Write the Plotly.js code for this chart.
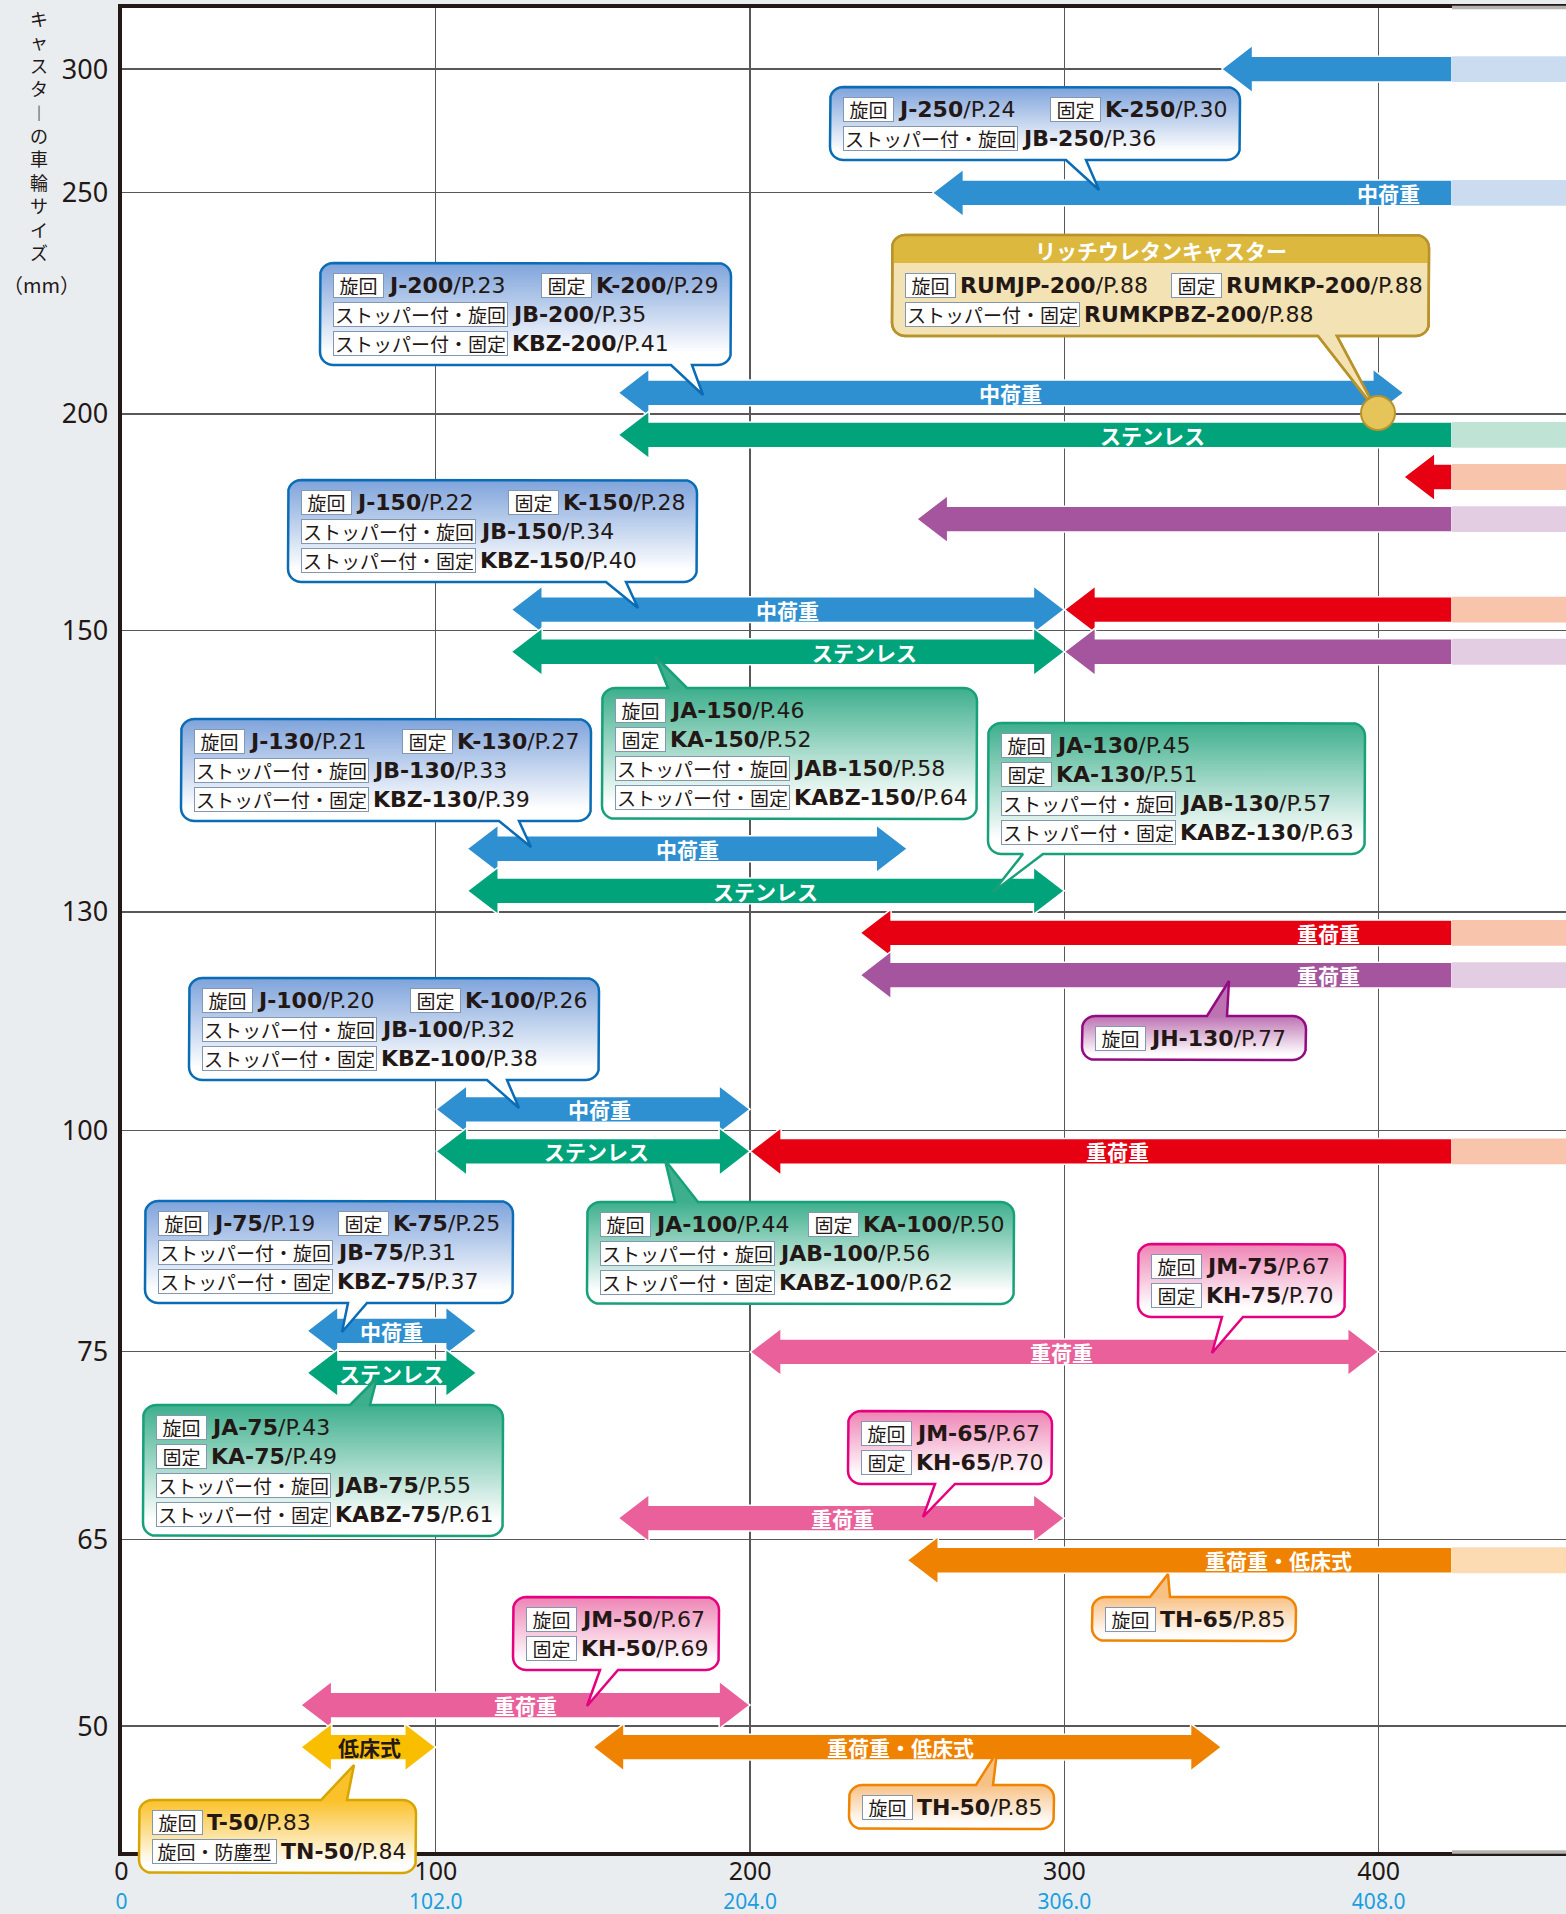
<!DOCTYPE html>
<html><head><meta charset="utf-8">
<script src="https://cdn.plot.ly/plotly-3.0.1.min.js"></script>
<style>html,body{margin:0;padding:0;background:#e9edf0}</style>
</head><body><div id="chart" style="width:1566px;height:1914px"></div>
<script>
// ================= DATA =================
const sizeTicks = [50, 65, 75, 100, 130, 150, 200, 250, 300];          // caster wheel size (mm)
const loadTicks = [0, 100, 200, 300, 400];
const loadTickLabels = ['0', '100', '200', '300', '400'];
const loadTickLabels2 = ['0', '102.0', '204.0', '306.0', '408.0'];

const arrowSize   = [300, 250, 200, 200, 200, 200, 150, 150, 150, 150, 130, 130, 130, 130, 100, 100, 100, 75, 75, 75, 65, 65, 50, 50, 50];
const arrowSeries = ['medium','medium','medium','stainless','heavy','heavy2','medium','stainless','heavy','heavy2','medium','stainless','heavy','heavy2','medium','stainless','heavy','medium','stainless','heavyM','heavyM','heavyLow','heavyM','low','heavyLow'];
const arrowFrom   = [350, 258, 158, 158, 408, 253, 124, 124, 300, 300, 110, 110, 235, 235, 100, 100, 200, 59, 59, 200, 158, 250, 57, 57, 150];
const arrowTo     = [null, null, 408, null, null, null, 300, 300, null, null, 250, 300, null, null, 200, 200, null, 113, 113, 400, 300, null, 200, 100, 350]; // null = open-ended
const arrowText   = ['', '中荷重', '中荷重', 'ステンレス', '', '', '中荷重', 'ステンレス', '', '', '中荷重', 'ステンレス', '重荷重', '重荷重', '中荷重', 'ステンレス', '重荷重', '中荷重', 'ステンレス', '重荷重', '重荷重', '重荷重・低床式', '重荷重', '低床式', '重荷重・低床式'];

const yTitleChars = ['キ','ャ','ス','タ','︱','の','車','輪','サ','イ','ズ'];
const yTitleUnit = '（mm）';
const richTitle = 'リッチウレタンキャスター';

const calloutLines = [
  [['旋回|J-250|P.24','固定|K-250|P.30'], ['ストッパー付・旋回|JB-250|P.36']],
  [['旋回|RUMJP-200|P.88','固定|RUMKP-200|P.88'], ['ストッパー付・固定|RUMKPBZ-200|P.88']],
  [['旋回|J-200|P.23','固定|K-200|P.29'], ['ストッパー付・旋回|JB-200|P.35'], ['ストッパー付・固定|KBZ-200|P.41']],
  [['旋回|J-150|P.22','固定|K-150|P.28'], ['ストッパー付・旋回|JB-150|P.34'], ['ストッパー付・固定|KBZ-150|P.40']],
  [['旋回|JA-150|P.46'], ['固定|KA-150|P.52'], ['ストッパー付・旋回|JAB-150|P.58'], ['ストッパー付・固定|KABZ-150|P.64']],
  [['旋回|J-130|P.21','固定|K-130|P.27'], ['ストッパー付・旋回|JB-130|P.33'], ['ストッパー付・固定|KBZ-130|P.39']],
  [['旋回|JA-130|P.45'], ['固定|KA-130|P.51'], ['ストッパー付・旋回|JAB-130|P.57'], ['ストッパー付・固定|KABZ-130|P.63']],
  [['旋回|JH-130|P.77']],
  [['旋回|J-100|P.20','固定|K-100|P.26'], ['ストッパー付・旋回|JB-100|P.32'], ['ストッパー付・固定|KBZ-100|P.38']],
  [['旋回|JA-100|P.44','固定|KA-100|P.50'], ['ストッパー付・旋回|JAB-100|P.56'], ['ストッパー付・固定|KABZ-100|P.62']],
  [['旋回|J-75|P.19','固定|K-75|P.25'], ['ストッパー付・旋回|JB-75|P.31'], ['ストッパー付・固定|KBZ-75|P.37']],
  [['旋回|JA-75|P.43'], ['固定|KA-75|P.49'], ['ストッパー付・旋回|JAB-75|P.55'], ['ストッパー付・固定|KABZ-75|P.61']],
  [['旋回|JM-75|P.67'], ['固定|KH-75|P.70']],
  [['旋回|JM-65|P.67'], ['固定|KH-65|P.70']],
  [['旋回|TH-65|P.85']],
  [['旋回|JM-50|P.67'], ['固定|KH-50|P.69']],
  [['旋回|TH-50|P.85']],
  [['旋回|T-50|P.83'], ['旋回・防塵型|TN-50|P.84']]
];

// ================= LAYOUT / STYLE =================
const W = 1566, H = 1914;
const PL = 121.5, PT = 7.5, PB = 1852;
const PXX = 3.143, ROW = 42.1;
const XMAX = (W - PL) / PXX;
const YMAX = (PB - PT) / ROW;
const OPEN_END = (1452 - PL) / PXX;
// vertical (non-linear) position of each size gridline, in row units
const sizeLevel = [2.99, 7.43, 11.88, 17.14, 22.33, 29.01, 34.16, 39.41, 42.35];
const arrowLane = [0, 0, 0.5, -0.5, -1.5, -2.5, 0.5, -0.5, 0.5, -0.5, 1.5, 0.5, -0.5, -1.5, 0.5, -0.5, -0.5, 0.5, -0.5, 0, 0.5, -0.5, 0.5, -0.5, -0.5];
const arrowTextX = [null, 403, 283, 328, null, null, 212, 236.5, null, null, 180, 205, 384, 384, 152, 151, 317, 86, 86, 299, 229.5, 368, 128.5, 79, 248];

const INK = '#231815';
const FONT_JP = '"Noto Sans CJK JP", "Noto Sans", sans-serif';
const FONT_LAT = '"DejaVu Sans", sans-serif';
const FONT_NUM = '"Noto Sans", "DejaVu Sans", sans-serif';

const seriesStyle = {
  medium:   {c: '#2e8fd1', tail: '#cbdcf1', txt: '#ffffff'},
  stainless:{c: '#00a37a', tail: '#bfe3d4', txt: '#ffffff'},
  heavy:    {c: '#e60012', tail: '#f8c4ab', txt: '#ffffff'},
  heavy2:   {c: '#a4559d', tail: '#e3cde3', txt: '#ffffff'},
  heavyM:   {c: '#e9609b', tail: '#f6cfe0', txt: '#ffffff'},
  heavyLow: {c: '#ef8200', tail: '#fcdab2', txt: '#ffffff'},
  low:      {c: '#fabe00', tail: '#fde8a0', txt: INK}
};
const calloutStyle = {
  blue:   {line: '#0a6cb5', top: '#7ea3db'},
  green:  {line: '#17a07a', top: '#3daf8c'},
  pink:   {line: '#e4007f', top: '#ee84b5'},
  purple: {line: '#930a83', top: '#bd72b2'},
  orange: {line: '#f08300', top: '#f8c184'},
  yellow: {line: '#d7a500', top: '#fbc12a'},
  gold:   {line: '#b8922a', top: '#f2e2b4', head: '#dcb83e'}
};
const calloutLayout = [
  {kind:'blue',   L:830,  T:87,   R:1240, g2:220, ptr:{e:'b', a:1066, b:1086, tx:1099, ty:190}},
  {kind:'gold',   L:892,  T:235,  R:1429, g2:279, ptr:{e:'b', a:1318, b:1337, tx:1378, ty:413}},
  {kind:'blue',   L:320,  T:263,  R:731,  g2:221, ptr:{e:'b', a:671,  b:692,  tx:703,  ty:395}},
  {kind:'blue',   L:288,  T:480,  R:697,  g2:220, ptr:{e:'b', a:606,  b:626,  tx:638,  ty:608}},
  {kind:'green',  L:602,  T:688,  R:977,  g2:0,   ptr:{e:'t', a:668,  b:687,  tx:655,  ty:656}},
  {kind:'blue',   L:181,  T:719,  R:591,  g2:221, ptr:{e:'b', a:499,  b:519,  tx:531,  ty:847}},
  {kind:'green',  L:988,  T:723,  R:1365, g2:0,   ptr:{e:'b', a:1023, b:1043, tx:993,  ty:892}},
  {kind:'purple', L:1082, T:1016, R:1306, g2:0,   ptr:{e:'t', a:1207, b:1227, tx:1229, ty:981}},
  {kind:'blue',   L:189,  T:978,  R:599,  g2:221, ptr:{e:'b', a:487,  b:507,  tx:519,  ty:1108}},
  {kind:'green',  L:587,  T:1202, R:1014, g2:221, ptr:{e:'t', a:675,  b:698,  tx:665,  ty:1160}},
  {kind:'blue',   L:145,  T:1201, R:513,  g2:193, ptr:{e:'b', a:348,  b:367,  tx:342,  ty:1332}},
  {kind:'green',  L:143,  T:1405, R:503,  g2:0,   ptr:{e:'t', a:350,  b:370,  tx:377,  ty:1378}},
  {kind:'pink',   L:1138, T:1244, R:1345, g2:0,   ptr:{e:'b', a:1222, b:1243, tx:1212, ty:1353}},
  {kind:'pink',   L:848,  T:1411, R:1052, g2:0,   ptr:{e:'b', a:935,  b:955,  tx:923,  ty:1517}},
  {kind:'orange', L:1092, T:1597, R:1296, g2:0,   ptr:{e:'t', a:1150, b:1170, tx:1168, ty:1574}},
  {kind:'pink',   L:513,  T:1597, R:719,  g2:0,   ptr:{e:'b', a:600,  b:618,  tx:587,  ty:1706}},
  {kind:'orange', L:849,  T:1785, R:1054, g2:0,   ptr:{e:'t', a:976,  b:993,  tx:997,  ty:1752}},
  {kind:'yellow', L:139,  T:1800, R:416,  g2:0,   ptr:{e:'t', a:321,  b:347,  tx:354,  ty:1765}}
];
const labelW = {'旋回':45, '固定':45, 'ストッパー付・旋回':169, 'ストッパー付・固定':169, '旋回・防塵型':119};

// ================= BUILD =================
const levelOf = s => sizeLevel[sizeTicks.indexOf(s)];
const HL = 31 / PXX, HH = 23.8 / ROW, BH = 12.9 / ROW;
const traces = [];
const annotations = [];

arrowSize.forEach((s, i) => {
  const st = seriesStyle[arrowSeries[i]];
  const yc = levelOf(s) + arrowLane[i];
  const x0 = arrowFrom[i];
  const open = arrowTo[i] === null;
  const x1 = open ? OPEN_END : arrowTo[i];
  const xs = [x0, x0 + HL, x0 + HL], ys = [yc, yc + HH, yc + BH];
  if (open) { xs.push(x1, x1); ys.push(yc + BH, yc - BH); }
  else { xs.push(x1 - HL, x1 - HL, x1, x1 - HL, x1 - HL); ys.push(yc + BH, yc + HH, yc, yc - HH, yc - BH); }
  xs.push(x0 + HL, x0 + HL, x0); ys.push(yc - BH, yc - HH, yc);
  traces.push({type:'scatter', x: xs, y: ys, mode:'lines', fill:'toself', fillcolor: st.c,
    line:{color:'#ffffff', width:1.5}, hoverinfo:'skip', showlegend:false, xaxis:'x', yaxis:'y'});
  if (open) {
    traces.push({type:'scatter', x:[OPEN_END, XMAX + 1, XMAX + 1, OPEN_END, OPEN_END], y:[yc + BH, yc + BH, yc - BH, yc - BH, yc + BH],
      mode:'lines', fill:'toself', fillcolor: st.tail, line:{width:0, color: st.tail}, hoverinfo:'skip', showlegend:false});
  }
  if (arrowText[i]) {
    annotations.push({xref:'x', yref:'y', x: arrowTextX[i], y: yc, text:'<b>' + arrowText[i] + '</b>', showarrow:false,
      font:{family: FONT_JP, size:21, color: st.txt}, xanchor:'center', yanchor:'middle'});
  }
});

function boxPath(L, T, R, B, r, p) {
  const xs = [], ys = [];
  const arc = (cx, cy, a0, a1) => { for (let k = 0; k <= 6; k++) { const a = (a0 + (a1 - a0) * k / 6) * Math.PI / 180; xs.push(cx + r * Math.cos(a)); ys.push(cy + r * Math.sin(a)); } };
  xs.push(L + r); ys.push(T);
  if (p && p.e === 't') { xs.push(p.a, p.tx, p.b); ys.push(T, p.ty, T); }
  arc(R - r, T + r, 270, 360);
  arc(R - r, B - r, 0, 90);
  if (p && p.e === 'b') { xs.push(p.b, p.tx, p.a); ys.push(B, p.ty, B); }
  arc(L + r, B - r, 90, 180);
  arc(L + r, T + r, 180, 270);
  return {xs, ys};
}

function addLine(x, y, label, model, page) {
  const w = labelW[label];
  annotations.push({xref:'x2', yref:'y2', x: x, y: y, xanchor:'left', yanchor:'middle', text: label, showarrow:false,
    font:{family: FONT_JP, size:19, color: INK}, bgcolor:'#ffffff', bordercolor:'#8497b0', borderwidth:1, borderpad:2,
    width: w, height: 19, align:'center', valign:'middle'});
  annotations.push({xref:'x2', yref:'y2', x: x + w + 6 + 3, y: y, xanchor:'left', yanchor:'middle',
    text: '<b>' + model + '</b>/' + page, showarrow:false, borderpad:0,
    font:{family: FONT_LAT, size:22, color: INK}});
}

calloutLayout.forEach((c, i) => {
  const st = calloutStyle[c.kind];
  const lines = calloutLines[i];
  const head = c.kind === 'gold' ? 28 : 0;
  const B = c.T + head + 15 + 29 * lines.length;
  const path = boxPath(c.L, c.T, c.R, B, 13, c.ptr);
  if (c.kind === 'gold') {
    traces.push({type:'scatter', xaxis:'x2', yaxis:'y2', x: path.xs, y: path.ys, mode:'lines', fill:'toself',
      fillcolor: st.top, line:{color: st.line, width:2.5}, hoverinfo:'skip', showlegend:false});
    const hx = [], hy = [], r = 13;
    for (let k = 0; k <= 6; k++) { const a = (180 + 90 * k / 6) * Math.PI / 180; hx.push(c.L + r + r * Math.cos(a)); hy.push(c.T + r + r * Math.sin(a)); }
    for (let k = 0; k <= 6; k++) { const a = (270 + 90 * k / 6) * Math.PI / 180; hx.push(c.R - r + r * Math.cos(a)); hy.push(c.T + r + r * Math.sin(a)); }
    hx.push(c.R, c.L); hy.push(c.T + head, c.T + head);
    traces.push({type:'scatter', xaxis:'x2', yaxis:'y2', x: hx, y: hy, mode:'lines', fill:'toself',
      fillcolor: st.head, line:{width:0, color: st.head}, hoverinfo:'skip', showlegend:false});
    traces.push({type:'scatter', xaxis:'x2', yaxis:'y2', x: path.xs.concat([path.xs[0]]), y: path.ys.concat([path.ys[0]]), mode:'lines',
      line:{color: st.line, width:2.5}, hoverinfo:'skip', showlegend:false});
    traces.push({type:'scatter', xaxis:'x2', yaxis:'y2', x:[c.ptr.tx], y:[c.ptr.ty], mode:'markers',
      marker:{size:34, color:'#e5c45a', line:{color: st.line, width:2}}, hoverinfo:'skip', showlegend:false});
    annotations.push({xref:'x2', yref:'y2', x:(c.L + c.R) / 2, y: c.T + head / 2 + 1, text:'<b>' + richTitle + '</b>', showarrow:false,
      font:{family: FONT_JP, size:21, color:'#ffffff'}, xanchor:'center', yanchor:'middle'});
  } else {
    traces.push({type:'scatter', xaxis:'x2', yaxis:'y2', x: path.xs, y: path.ys, mode:'lines', fill:'toself',
      fillgradient:{type:'vertical', colorscale:[[0, st.top], [0.88, '#ffffff'], [1, '#ffffff']], start: c.T, stop: B},
      line:{color: st.line, width:2.5}, hoverinfo:'skip', showlegend:false});
  }
  lines.forEach((ln, j) => {
    const y = c.T + head + 22 + 29 * j;
    ln.forEach((g, gi) => {
      const parts = g.split('|');
      addLine(gi === 0 ? c.L + 13 : c.L + c.g2, y, parts[0], parts[1], parts[2]);
    });
  });
});

// vertical axis title (stacked characters, one text element)
annotations.push({xref:'x2', yref:'y2', x: 39, y: 135, text: yTitleChars.join('<br>'), showarrow:false,
  font:{family: FONT_JP, size:18, color: INK}, xanchor:'center', yanchor:'middle', align:'center'});
annotations.push({xref:'x2', yref:'y2', x: 41, y: 284, text: yTitleUnit, showarrow:false,
  font:{family: FONT_JP, size:20, color: INK}, xanchor:'center', yanchor:'middle'});

const xTickText = loadTickLabels.map((t, i) =>
  '<span style="font-size:25px">' + t + '</span><br><span style="color:#1a9ee0;font-size:21px">' + loadTickLabels2[i] + '</span>');

const layout = {
  width: W, height: H,
  margin: {l:0, r:0, t:0, b:0},
  paper_bgcolor: '#e9edf0',
  plot_bgcolor: 'rgba(0,0,0,0)',
  showlegend: false,
  hovermode: false,
  xaxis: {domain:[PL / W, 1], range:[0, XMAX], anchor:'y', tickmode:'array', tickvals: loadTicks, ticktext: xTickText,
    showgrid:true, gridcolor:'#595757', gridwidth:1.3, zeroline:false, showline:true, mirror:true, linecolor: INK, linewidth:3.5,
    ticks:'', tickfont:{family: FONT_NUM, size:22, color: INK}, ticklabelstandoff: -2, fixedrange:true},
  yaxis: {domain:[(H - PB) / H, (H - PT) / H], range:[0, YMAX], anchor:'x', tickmode:'array', tickvals: sizeLevel, ticktext: sizeTicks.map(String),
    showgrid:true, gridcolor:'#595757', gridwidth:1.3, zeroline:false, showline:true, linecolor: INK, linewidth:4,
    ticks:'', tickfont:{family: FONT_NUM, size:27, color: INK}, ticklabelstandoff: 4, fixedrange:true},
  xaxis2: {domain:[0, 1], range:[0, W], anchor:'y2', visible:false, fixedrange:true},
  yaxis2: {domain:[0, 1], range:[H, 0], anchor:'x2', visible:false, fixedrange:true},
  shapes: [
    {type:'rect', xref:'paper', yref:'paper', x0: PL / W, x1: 1, y0: (H - PB) / H, y1: (H - PT) / H, fillcolor:'#ffffff', line:{width:0}, layer:'below'},
    {type:'line', xref:'paper', yref:'paper', x0: 1452 / W, x1: 1, y0: (H - PT) / H, y1: (H - PT) / H, line:{color:'#b4b4b4', width:3.5}, layer:'above'},
    {type:'line', xref:'paper', yref:'paper', x0: 1452 / W, x1: 1, y0: (H - PB) / H, y1: (H - PB) / H, line:{color:'#b4b4b4', width:3.5}, layer:'above'}
  ],
  annotations: annotations
};

Plotly.newPlot('chart', traces, layout, {staticPlot:true, displayModeBar:false});
</script>
</body></html>
